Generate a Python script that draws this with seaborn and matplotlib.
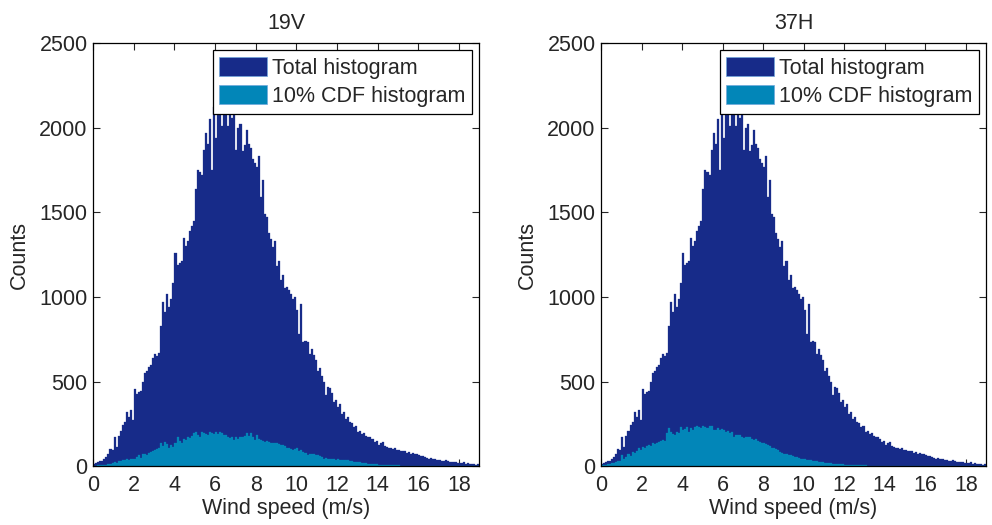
import numpy as np
import pandas as pd
import matplotlib
matplotlib.use('Agg')
import matplotlib.pyplot as plt
import seaborn as sns
from matplotlib.patches import Patch

# histogram bins: 0.1 m/s from 0 to 19
bin_edges = [round(0.1 * i, 2) for i in range(191)]
bin_centers = [round(0.1 * i + 0.05, 3) for i in range(190)]

# total histogram (same in both panels), one row per 1 m/s
total_counts = [
    15, 20, 22, 30, 28, 40, 55, 75, 100, 95,
    170, 115, 180, 210, 245, 260, 320, 290, 330, 270,
    455, 425, 440, 445, 500, 550, 560, 585, 600, 640,
    660, 650, 670, 830, 970, 910, 1020, 940, 990, 1080,
    1260, 1190, 1200, 1210, 1350, 1300, 1330, 1390, 1420, 1450,
    1640, 1750, 1740, 1720, 1870, 1970, 1905, 2050, 1750, 2120,
    1940, 2180, 2150, 2010, 2250, 2200, 2010, 2300, 2060, 2150,
    1870, 2000, 2020, 1860, 1900, 1985, 1905, 1880, 1815, 1790,
    1770, 1830, 1590, 1690, 1490, 1470, 1375, 1340, 1295, 1330,
    1180, 1210, 1100, 1130, 1050, 1060, 1040, 1020, 990, 1000,
    920, 780, 960, 735, 740, 735, 665, 690, 655, 625,
    565, 580, 530, 500, 420, 470, 460, 430, 380, 390,
    350, 370, 310, 320, 280, 290, 260, 255, 230, 240,
    200, 210, 190, 195, 180, 175, 170, 160, 145, 150,
    125, 135, 145, 120, 115, 105, 110, 100, 105, 95,
    95, 90, 88, 92, 80, 85, 75, 80, 70, 72,
    65, 62, 58, 55, 50, 45, 48, 42, 40, 38,
    35, 33, 30, 35, 28, 25, 27, 22, 25, 20,
    20, 18, 22, 15, 17, 15, 12, 14, 10, 12,
]

# 10% CDF histogram, 19V
cdf_19v = [
    3, 4, 5, 5, 6, 8, 10, 12, 15, 18,
    25, 20, 30, 28, 35, 38, 40, 35, 42, 40,
    45, 55, 65, 50, 70, 75, 68, 80, 85, 90,
    95, 100, 110, 135, 120, 145, 130, 105, 125, 115,
    135, 175, 150, 135, 160, 155, 170, 165, 180, 195,
    205, 185, 175, 200, 195, 190, 185, 200, 195, 190,
    205, 190, 200, 195, 185, 185, 175, 165, 170, 155,
    175, 160, 170, 175, 180, 195, 180, 195, 170, 155,
    185, 160, 155, 150, 145, 150, 145, 140, 135, 140,
    135, 130, 125, 125, 120, 105, 110, 100, 95, 100,
    105, 90, 95, 85, 80, 65, 70, 75, 72, 68,
    65, 60, 55, 45, 50, 45, 42, 40, 42, 38,
    40, 38, 35, 36, 34, 35, 30, 28, 27, 26,
    25, 22, 20, 18, 17, 15, 14, 13, 12, 11,
    10, 9, 9, 8, 8, 7, 6, 6, 5, 5,
    5, 4, 4, 3, 3, 3, 2, 2, 2, 1,
    1, 1, 0, 0, 0, 0, 0, 0, 0, 0,
    0, 0, 0, 0, 0, 0, 0, 0, 0, 0,
    0, 0, 0, 0, 0, 0, 0, 0, 0, 0,
]

# 10% CDF histogram, 37H
cdf_37h = [
    5, 8, 10, 12, 15, 18, 20, 25, 30, 28,
    65, 40, 55, 75, 60, 85, 80, 90, 105, 95,
    115, 110, 120, 125, 118, 135, 130, 140, 145, 150,
    155, 150, 195, 225, 205, 190, 185, 200, 195, 230,
    215, 220, 230, 205, 225, 215, 230, 235, 230, 225,
    240, 230, 225, 235, 235, 215, 215, 225, 215, 220,
    215, 205, 210, 195, 200, 175, 185, 185, 185, 170,
    165, 175, 170, 175, 160, 155, 160, 150, 145, 140,
    135, 130, 125, 120, 110, 105, 100, 95, 85, 80,
    75, 72, 68, 65, 60, 55, 52, 50, 45, 42,
    40, 38, 36, 34, 32, 30, 28, 26, 24, 22,
    20, 18, 17, 16, 15, 15, 14, 13, 12, 11,
    10, 9, 9, 8, 7, 7, 6, 6, 5, 5,
    5, 4, 4, 3, 3, 3, 2, 2, 2, 1,
    0, 0, 0, 0, 0, 0, 0, 0, 0, 0,
    0, 0, 0, 0, 0, 0, 0, 0, 0, 0,
    0, 0, 0, 0, 0, 0, 0, 0, 0, 0,
    0, 0, 0, 0, 0, 0, 0, 0, 0, 0,
    0, 0, 0, 0, 0, 0, 0, 0, 0, 0,
]

panel_titles = ['19V', '37H']
panel_cdfs = [cdf_19v, cdf_37h]
legend_labels = ['Total histogram', '10% CDF histogram']
x_ticks = list(range(0, 19, 2))
y_ticks = [0, 500, 1000, 1500, 2000, 2500]

dark_blue = '#172b89'
light_blue = '#0286b8'
fs = 15.5

sns.set_style('ticks')
plt.rcParams['font.family'] = ['Liberation Sans', 'DejaVu Sans']
plt.rcParams['font.size'] = fs

fig = plt.figure(figsize=(9.92, 5.25), dpi=100)
ax_positions = [[0.094, 0.112, 0.389, 0.806], [0.606, 0.112, 0.388, 0.806]]

for pos, title, cdf in zip(ax_positions, panel_titles, panel_cdfs):
    df = pd.DataFrame({'speed': bin_centers, 'total': total_counts, 'cdf': cdf})
    ax = fig.add_axes(pos)
    sns.histplot(data=df, x='speed', weights='total', bins=bin_edges, ax=ax,
                 color=dark_blue, alpha=1, edgecolor=dark_blue, linewidth=0.2)
    sns.histplot(data=df, x='speed', weights='cdf', bins=bin_edges, ax=ax,
                 color=light_blue, alpha=1, edgecolor=light_blue, linewidth=0.2)
    ax.set_xlim(0, 19)
    ax.set_ylim(0, 2500)
    ax.set_xticks(x_ticks)
    ax.set_yticks(y_ticks)
    ax.tick_params(direction='in', top=True, right=True, length=5, width=0.8,
                   labelsize=fs)
    ax.tick_params(axis='x', pad=6)
    ax.tick_params(axis='y', pad=4)
    for sp in ax.spines.values():
        sp.set_visible(True)
        sp.set_linewidth(0.9)
        sp.set_color('black')
    ax.set_title(title, fontsize=fs, pad=10)
    ax.set_xlabel('Wind speed (m/s)', fontsize=fs, labelpad=2)
    ax.set_ylabel('Counts', fontsize=fs, labelpad=7)
    handles = [Patch(facecolor=dark_blue, edgecolor='#6fa8dc', linewidth=0.5),
               Patch(facecolor=light_blue, edgecolor='#6fa8dc', linewidth=0.5)]
    leg = ax.legend(handles, legend_labels, loc='upper right', fancybox=False,
                    framealpha=1, edgecolor='black', fontsize=fs,
                    handlelength=2.2, handleheight=1.0, handletextpad=0.25,
                    labelspacing=0.3, borderpad=0.3, borderaxespad=0.33)
    leg.get_frame().set_linewidth(0.9)

fig.savefig('out.png', dpi=100)
